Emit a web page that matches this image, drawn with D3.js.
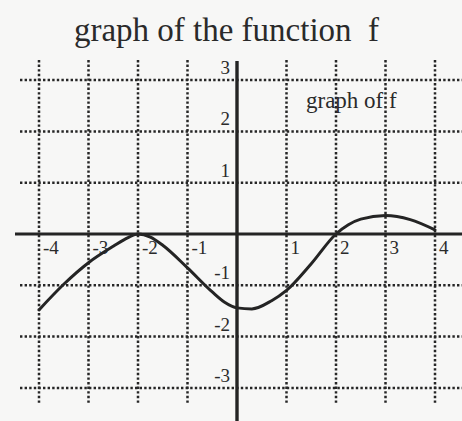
<!DOCTYPE html>
<html>
<head>
<meta charset="utf-8">
<script src="https://cdn.jsdelivr.net/npm/d3@7"></script>
<style>
  html, body { margin: 0; padding: 0; background: #f7f7f6; }
  svg { display: block; }
</style>
</head>
<body>
<svg id="chart" width="462" height="421"></svg>
<script>
// ---- data ----
const titleText = "graph of the function  f";
const curveLabel = "graph of f";
const xTicks = [-4, -3, -2, -1, 1, 2, 3, 4];
const yTicks = [3, 2, 1, -1, -2, -3];
const curveX = [-4, -3.5, -3, -2.5, -2.2, -2, -1.75, -1.5, -1, -0.5, -0.25, 0, 0.3, 0.7, 1, 1.5, 2, 2.25, 2.5, 3, 3.5, 4];
const curveY = [-1.48, -0.98, -0.56, -0.24, -0.07, 0, -0.06, -0.22, -0.66, -1.13, -1.33, -1.44, -1.46, -1.3, -1.1, -0.58, 0, 0.18, 0.29, 0.36, 0.28, 0.08];

// ---- scales ----
const svg = d3.select("#chart");
const x = d3.scaleLinear().domain([-4, 4]).range([39, 435]);
const y = d3.scaleLinear().domain([-3, 3]).range([387.9, 80.1]);

const ink = "#242424";
const serif = "'Liberation Serif', 'Times New Roman', serif";

// title
svg.append("text")
  .attr("x", 226.5).attr("y", 41)
  .attr("text-anchor", "middle")
  .attr("xml:space", "preserve")
  .style("white-space", "pre")
  .attr("font-family", serif).attr("font-size", 33)
  .attr("fill", "#2a2a2a")
  .text(titleText);

// dotted grid
const grid = svg.append("g")
  .attr("stroke", "#262626")
  .attr("stroke-width", 2.5)
  .attr("stroke-dasharray", "2.4,2.2");
grid.selectAll("line.v").data(xTicks).join("line")
  .attr("class", "v")
  .attr("x1", d => x(d)).attr("x2", d => x(d))
  .attr("y1", 60).attr("y2", 405);
grid.selectAll("line.h").data(yTicks).join("line")
  .attr("class", "h")
  .attr("x1", 20).attr("x2", 462)
  .attr("y1", d => y(d)).attr("y2", d => y(d));

// axes (thick)
svg.append("line")
  .attr("x1", 15).attr("x2", 462)
  .attr("y1", y(0)).attr("y2", y(0))
  .attr("stroke", ink).attr("stroke-width", 3.2);
svg.append("line")
  .attr("x1", x(0)).attr("x2", x(0))
  .attr("y1", 61).attr("y2", 421)
  .attr("stroke", ink).attr("stroke-width", 3.4);

// tick labels
svg.append("g").selectAll("text").data(xTicks).join("text")
  .attr("x", d => x(d) + 4).attr("y", 254)
  .attr("font-family", serif).attr("font-size", 19)
  .attr("fill", "#2a2a2a")
  .text(d => d < 0 ? "-" + Math.abs(d) : String(d));
svg.append("g").selectAll("text").data(yTicks).join("text")
  .attr("x", 230).attr("y", d => y(d) - 6)
  .attr("text-anchor", "end")
  .attr("font-family", serif).attr("font-size", 19)
  .attr("fill", "#2a2a2a")
  .text(d => d < 0 ? "-" + Math.abs(d) : String(d));

// curve
const pts = curveX.map((v, i) => [v, curveY[i]]);
svg.append("path")
  .datum(pts)
  .attr("fill", "none")
  .attr("stroke", ink)
  .attr("stroke-width", 3)
  .attr("stroke-linecap", "round")
  .attr("d", d3.line().x(d => x(d[0])).y(d => y(d[1])).curve(d3.curveMonotoneX));

// curve label
svg.append("text")
  .attr("x", 306).attr("y", 108)
  .attr("font-family", serif).attr("font-size", 23)
  .attr("fill", "#2a2a2a")
  .text(curveLabel);
</script>
</body>
</html>
